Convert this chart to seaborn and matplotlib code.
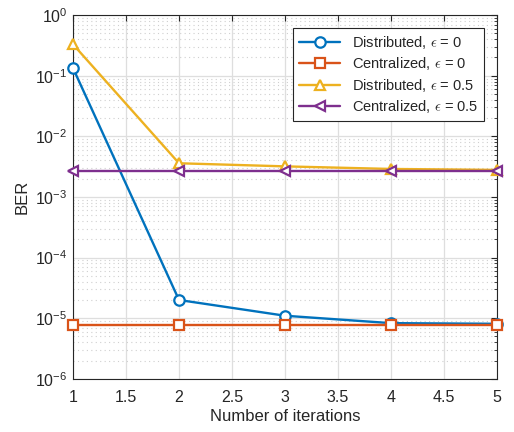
import pandas as pd
import matplotlib
matplotlib.use('Agg')
import matplotlib.pyplot as plt
import seaborn as sns

# Data
iterations = [1, 2, 3, 4, 5]
dist_eps0 = [0.134, 2.0e-5, 1.1e-5, 8.3e-6, 8.1e-6]
cent_eps0 = [7.7e-6, 7.7e-6, 7.7e-6, 7.7e-6, 7.7e-6]
dist_eps05 = [0.33, 3.6e-3, 3.2e-3, 2.9e-3, 2.8e-3]
cent_eps05 = [2.72e-3, 2.72e-3, 2.72e-3, 2.72e-3, 2.72e-3]

labels = [r'Distributed, $\epsilon$ = 0', r'Centralized, $\epsilon$ = 0',
          r'Distributed, $\epsilon$ = 0.5', r'Centralized, $\epsilon$ = 0.5']
series = [dist_eps0, cent_eps0, dist_eps05, cent_eps05]
colors = ['#0072BD', '#D95319', '#EDB120', '#7E2F8E']
markers = ['o', 's', '^', '<']

rows = []
for lab, vals in zip(labels, series):
    for it, v in zip(iterations, vals):
        rows.append({'iter': it, 'BER': v, 'series': lab})
df = pd.DataFrame(rows)

sns.set_style('white')
plt.rcParams['font.family'] = ['Liberation Sans', 'DejaVu Sans']
plt.rcParams['mathtext.fontset'] = 'cm'

fig = plt.figure(figsize=(5.14, 4.32), dpi=100)
ax = fig.add_axes([0.142, 0.123, 0.825, 0.842])

for lab, c, m in zip(labels, colors, markers):
    sns.lineplot(data=df[df['series'] == lab], x='iter', y='BER', ax=ax,
                 color=c, marker=m, markersize=7.5, markerfacecolor='white',
                 markeredgecolor=c, markeredgewidth=1.6, linewidth=1.7,
                 label=lab, clip_on=False, zorder=3)

ax.set_yscale('log')
ax.set_ylim(1e-6, 1)
ax.set_xlim(1, 5)
ax.set_xticks([1, 1.5, 2, 2.5, 3, 3.5, 4, 4.5, 5])
ax.set_xticklabels(['1', '1.5', '2', '2.5', '3', '3.5', '4', '4.5', '5'])
ax.set_yticks([1e-6, 1e-5, 1e-4, 1e-3, 1e-2, 1e-1, 1])

ax.grid(True, which='major', color='#dedede', linewidth=0.9, linestyle='-')
ax.grid(True, which='minor', axis='y', color='#cfcfcf', linewidth=0.8,
        linestyle=(0, (1, 3)))
ax.set_axisbelow(True)

ax.tick_params(which='both', direction='in', top=True, right=True,
               labelsize=11.5, colors='#262626')
ax.tick_params(axis='x', which='major', pad=8)
ax.tick_params(axis='y', which='major', pad=4)
ax.tick_params(which='major', length=4)
ax.tick_params(which='minor', length=2)
for sp in ax.spines.values():
    sp.set_color('#262626')
    sp.set_linewidth(0.8)

ax.set_xlabel('Number of iterations', fontsize=12, color='#262626', labelpad=3)
ax.set_ylabel('BER', fontsize=12, color='#262626')

leg = ax.legend(loc='upper right', fontsize=10.5, frameon=True, fancybox=False,
                edgecolor='#262626', framealpha=1, handlelength=2.8,
                borderaxespad=0.9, labelspacing=0.3)
leg.get_frame().set_linewidth(0.8)

fig.savefig('out.png', dpi=100)
